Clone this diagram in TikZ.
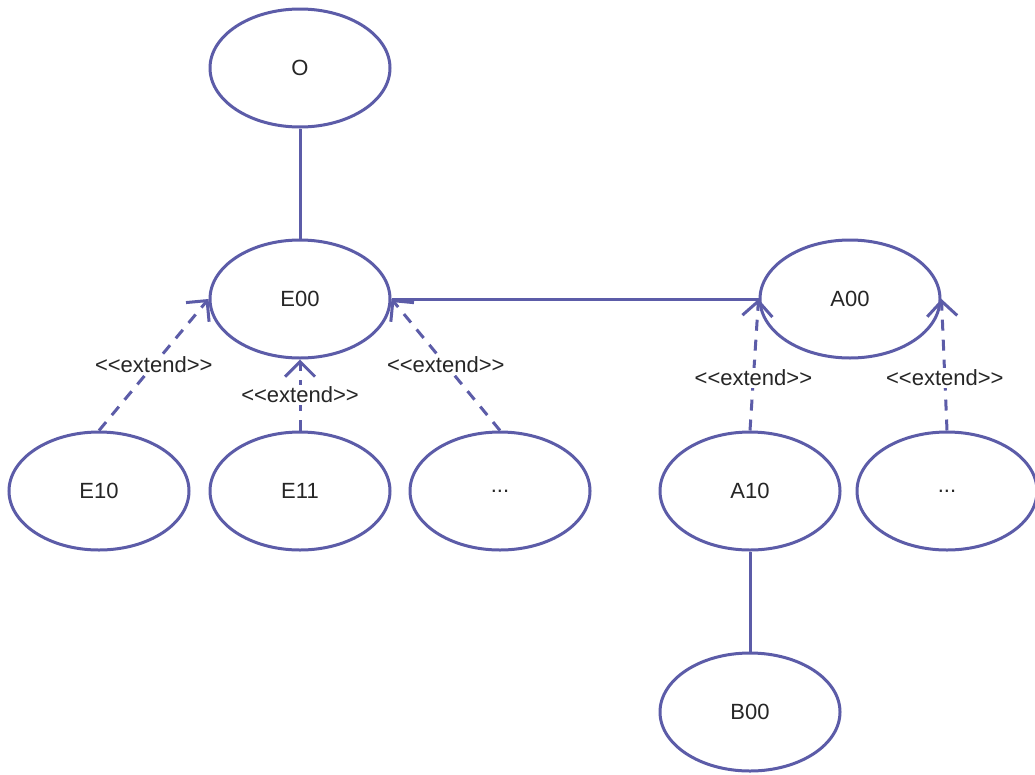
\documentclass[tikz,border=0pt]{standalone}
\usepackage{fontspec}
\setmainfont{Liberation Sans}
\usetikzlibrary{shapes.geometric,arrows.meta}
\definecolor{umlc}{RGB}{92,92,168}
\newcommand{\extlabel}{{<}{<}extend{>}{>}}
\tikzset{
  uc/.style={ellipse, draw=umlc, line width=3pt, fill=white, minimum width=180pt, minimum height=118pt, inner sep=0pt, font=\fontsize{22}{26}\selectfont, text=black!85},
  assoc/.style={draw=umlc, line width=3pt},
  ext/.style={draw=umlc, line width=3pt, dash pattern=on 11pt off 9pt, -{Straight Barb[length=15pt,width=30pt,line width=3pt]}},
  extlbl/.style={fill=white, inner sep=2pt, font=\fontsize{22}{26}\selectfont, text=black!85}
}
\begin{document}
\begin{tikzpicture}[x=1pt,y=-1pt]
\useasboundingbox[fill=white] (0,0) rectangle (1035,774);
\node[uc] (O) at (300,68) {O};
\node[uc] (E00) at (300,299) {E00};
\node[uc] (A00) at (850,299) {A00};
\node[uc] (E10) at (99,491) {E10};
\node[uc] (E11) at (300,491) {E11};
\node[uc] (Ed) at (500,491) {...};
\node[uc] (A10) at (750,491) {A10};
\node[uc] (Ad) at (947,491) {...};
\node[uc] (B00) at (750,712) {B00};
\draw[assoc] (O) -- (E00);
\draw[assoc] (E00.east) -- (A00.west);
\draw[assoc] (A10) -- (B00);
\draw[ext] (E10.north) -- node[extlbl, pos=0.5] {\extlabel} (E00.west);
\draw[ext] (E11.north) -- node[extlbl, pos=0.5] {\extlabel} (E00.south);
\draw[ext] (Ed.north) -- node[extlbl, pos=0.5] {\extlabel} (E00.east);
\draw[ext] (A10.north) -- node[extlbl, pos=0.4] {\extlabel} (A00.west);
\draw[ext] (Ad.north) -- node[extlbl, pos=0.4] {\extlabel} (A00.east);
\end{tikzpicture}
\end{document}
